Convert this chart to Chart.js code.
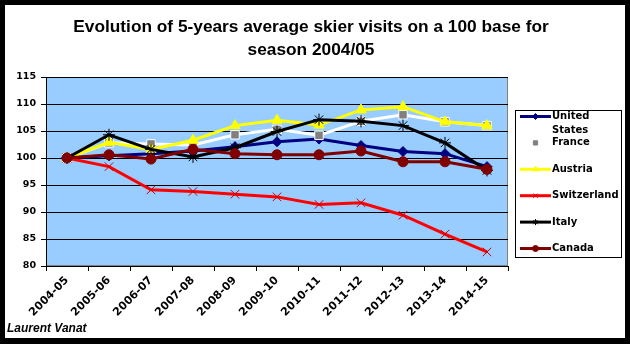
<!DOCTYPE html>
<html><head><meta charset="utf-8">
<script src="https://cdn.jsdelivr.net/npm/chart.js@4/dist/chart.umd.min.js"></script>
<style>html,body{margin:0;padding:0;background:#000;}canvas{display:block;}</style>
</head><body>
<canvas id="c" width="630" height="344"></canvas>
<script>
const titleLines = ["Evolution of 5-years average skier visits on a 100 base for", "season 2004/05"];
const credit = "Laurent Vanat";
const categories = ["2004-05","2005-06","2006-07","2007-08","2008-09","2009-10","2010-11","2011-12","2012-13","2013-14","2014-15"];
const seriesNames = ["United States","France","Austria","Switzerland","Italy","Canada"];
const unitedStates = [100, 100.4, 100.8, 101.3, 102.1, 103.0, 103.5, 102.3, 101.2, 100.8, 98.4];
const france      = [100, 102.8, 102.6, 102.4, 104.3, 105.3, 104.2, 106.8, 108.0, 106.7, 106.0];
const austria     = [100, 102.9, 101.6, 103.3, 106.0, 107.0, 106.1, 108.9, 109.5, 106.7, 106.0];
const switzerland = [100, 98.4, 94.1, 93.8, 93.3, 92.8, 91.4, 91.7, 89.4, 85.9, 82.6];
const italy       = [100, 104.3, 101.6, 100.2, 101.9, 104.9, 107.1, 106.8, 106.0, 102.8, 97.7];
const canada      = [100, 100.6, 99.8, 101.6, 100.8, 100.6, 100.6, 101.3, 99.3, 99.3, 97.9];
const yMin = 80, yMax = 115, yStep = 5;

const FONT = '"Liberation Sans", Arial, sans-serif';
const DFONT = '"DejaVu Sans", Verdana, sans-serif';

function ds(label, data, color, pointStyle, pointColor, pointBorder, radius, order) {
  return {
    label, data, borderColor: color, borderWidth: 3, pointStyle,
    pointRadius: radius, pointHoverRadius: radius,
    pointBackgroundColor: pointColor, pointBorderColor: pointBorder, pointBorderWidth: 1,
    tension: 0, fill: false, order
  };
}

const datasets = [
  ds(seriesNames[0], unitedStates, '#000080', 'rectRot', '#000080', '#000080', 5, 6),
  ds(seriesNames[1], france, '#FFFFFF', 'rect', '#808080', '#FFFFFF', 6, 5),
  ds(seriesNames[2], austria, '#FFFF00', 'triangle', '#FFFF00', '#FFFF00', 6, 4),
  ds(seriesNames[3], switzerland, '#FF0000', 'crossRot', '#CC0000', '#CC0000', 6, 3),
  ds(seriesNames[4], italy, '#000000', 'star', '#000000', '#000000', 6, 2),
  ds(seriesNames[5], canada, '#800000', 'circle', '#800000', '#800000', 5, 1),
];

const framePlugin = {
  id: 'frame',
  beforeDraw(chart) {
    const ctx = chart.ctx, a = chart.chartArea;
    ctx.save();
    ctx.fillStyle = '#000';
    ctx.fillRect(0, 0, chart.width, chart.height);
    ctx.fillStyle = '#fff';
    ctx.fillRect(5, 5, 620, 333);
    ctx.fillStyle = '#99CCFF';
    ctx.fillRect(a.left, a.top, a.right - a.left, a.bottom - a.top);
    ctx.strokeStyle = '#808080';
    ctx.lineWidth = 1;
    ctx.strokeRect(a.left + 0.5, a.top + 0.5, a.right - a.left - 1, a.bottom - a.top - 1);
    ctx.restore();
  },
  afterDraw(chart) {
    const ctx = chart.ctx;
    ctx.save();
    // title
    ctx.fillStyle = '#000';
    ctx.textAlign = 'center';
    ctx.textBaseline = 'middle';
    ctx.font = 'bold 17.3px ' + FONT;
    ctx.fillText(titleLines[0], 311, 27);
    ctx.fillText(titleLines[1], 311, 50);
    // credit
    ctx.textAlign = 'left';
    ctx.font = 'italic bold 12px ' + FONT;
    ctx.fillText(credit, 7, 329);
    // legend
    const lx = 515, ly = 110, lw = 106, lh = 147;
    ctx.fillStyle = '#fff';
    ctx.fillRect(lx, ly, lw, lh);
    ctx.strokeStyle = '#000';
    ctx.lineWidth = 1;
    ctx.strokeRect(lx + 0.5, ly + 0.5, lw, lh);
    ctx.font = 'bold 10px ' + DFONT;
    let y = 116.5;
    chart.data.datasets.forEach((d) => {
      const words = d.label.split(' ');
      const lines = [];
      let cur = '';
      words.forEach(w => {
        const t = cur ? cur + ' ' + w : w;
        if (ctx.measureText(t).width > 68 && cur) { lines.push(cur); cur = w; } else cur = t;
      });
      lines.push(cur);
      ctx.strokeStyle = d.borderColor;
      ctx.lineWidth = 3;
      ctx.beginPath();
      ctx.moveTo(520, y); ctx.lineTo(551, y); ctx.stroke();
      const opts = { pointStyle: d.pointStyle, radius: 3, rotation: 0, borderWidth: 1 };
      ctx.fillStyle = d.pointBackgroundColor;
      ctx.strokeStyle = d.pointBorderColor === '#FFFFFF' ? d.pointBackgroundColor : d.pointBorderColor;
      ctx.lineWidth = 1;
      if (Chart.helpers && Chart.helpers.drawPoint) Chart.helpers.drawPoint(ctx, opts, 535.5, y);
      ctx.fillStyle = '#000';
      lines.forEach((ln, k) => ctx.fillText(ln, 552, y + k * 13.5));
      y += Math.max(lines.length, 2) * 13.2;
    });
    ctx.restore();
  }
};

new Chart(document.getElementById('c'), {
  type: 'line',
  data: { labels: categories, datasets },
  options: {
    responsive: false,
    animation: false,
    devicePixelRatio: 1,
    layout: { padding: { left: 5, right: 122, top: 77, bottom: 28 } },
    plugins: { legend: { display: false }, title: { display: false }, tooltip: { enabled: false } },
    scales: {
      x: {
        offset: true,
        grid: { display: true, offset: true, drawOnChartArea: false, drawTicks: true, tickLength: 5, color: '#000' },
        border: { display: true, color: '#000', width: 1 },
        ticks: { color: '#000', font: { family: DFONT, size: 11, weight: 'bold' }, minRotation: 45, maxRotation: 45, autoSkip: false, padding: 3 },
        afterFit(s) { s.height = 50; }
      },
      y: {
        min: yMin, max: yMax,
        grid: { color: '#000', lineWidth: 1, drawTicks: true, tickLength: 5 },
        border: { display: true, color: '#000', width: 1 },
        ticks: { stepSize: yStep, color: '#000', font: { family: DFONT, size: 9.5, weight: 'bold' }, padding: 5 },
        afterFit(s) { s.width = 41; }
      }
    }
  },
  plugins: [framePlugin]
});
</script>
</body></html>
